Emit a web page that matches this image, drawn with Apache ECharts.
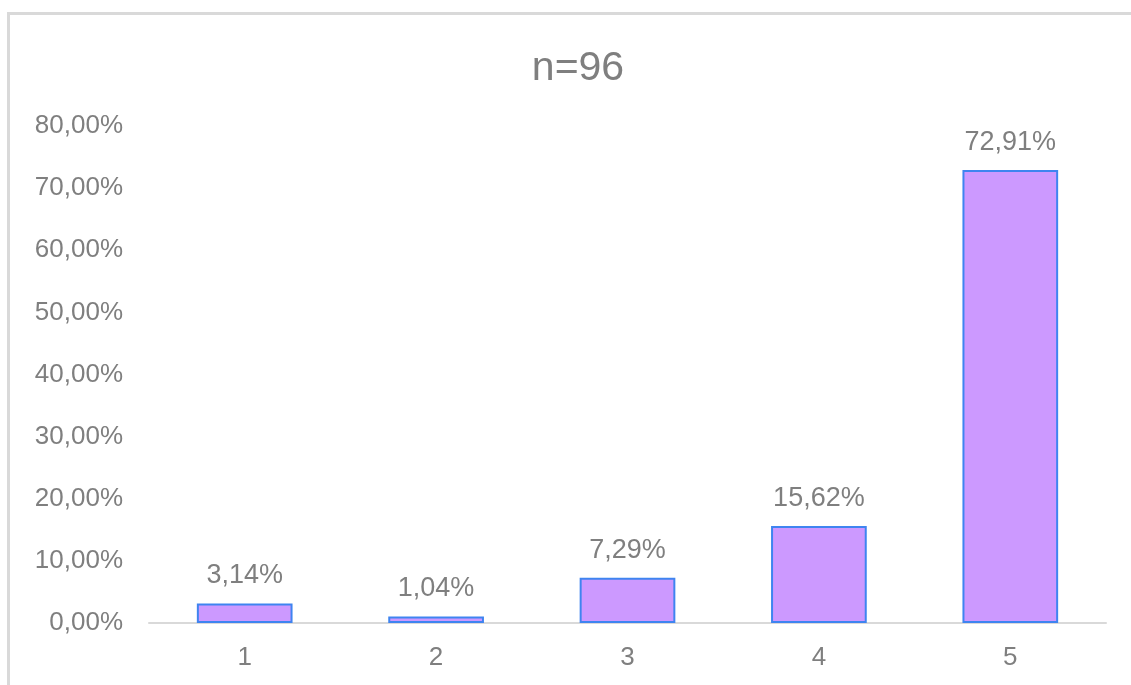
<!DOCTYPE html>
<html>
<head>
<meta charset="utf-8">
<style>
  html, body { margin: 0; padding: 0; background: #ffffff; }
  #chart { width: 1131px; height: 685px; }
</style>
<script src="https://cdn.jsdelivr.net/npm/echarts@6/dist/echarts.min.js"></script>
</head>
<body>
<div id="chart"></div>
<script>
// Answer categories and share of respondents (%)
const categories = ['1', '2', '3', '4', '5'];
const shares = [3.14, 1.04, 7.29, 15.62, 72.91];
const titleText = 'n=96';

const fmt = v => v.toFixed(2).replace('.', ',') + '%';
const textGray = '#7f7f7f';
const fontFamily = '"Liberation Sans", Arial, sans-serif';

const chart = echarts.init(document.getElementById('chart'), null, { renderer: 'canvas' });
chart.setOption({
  backgroundColor: '#ffffff',
  animation: false,
  title: {
    text: titleText,
    left: 573,
    textAlign: 'center',
    top: 43,
    textStyle: { color: textGray, fontSize: 41, fontWeight: 'normal', fontFamily }
  },
  graphic: [{
    type: 'rect',
    shape: { x: 8.5, y: 13.5, width: 1300, height: 900 },
    style: { fill: 'none', stroke: '#d9d9d9', lineWidth: 3 },
    silent: true
  }],
  grid: { left: 149, right: 25, top: 126, bottom: 62, containLabel: false },
  xAxis: {
    type: 'category',
    data: categories,
    axisLine: { lineStyle: { color: '#d9d9d9', width: 2 } },
    axisTick: { show: false },
    axisLabel: { color: textGray, fontSize: 26, fontFamily, margin: 22 }
  },
  yAxis: {
    type: 'value',
    min: 0,
    max: 80,
    interval: 10,
    splitLine: { show: false },
    axisLine: { show: false },
    axisTick: { show: false },
    axisLabel: {
      color: textGray, fontSize: 26, fontFamily, margin: 26,
      padding: [5, 0, 0, 0],
      formatter: v => fmt(v)
    }
  },
  series: [{
    type: 'bar',
    data: shares,
    barWidth: '50%',
    itemStyle: { color: '#cc99ff', borderColor: '#3f84f0', borderWidth: 2 },
    label: {
      show: true,
      position: 'top',
      distance: 14,
      color: textGray,
      fontSize: 27,
      fontFamily,
      formatter: p => fmt(p.value)
    }
  }]
});
</script>
</body>
</html>
